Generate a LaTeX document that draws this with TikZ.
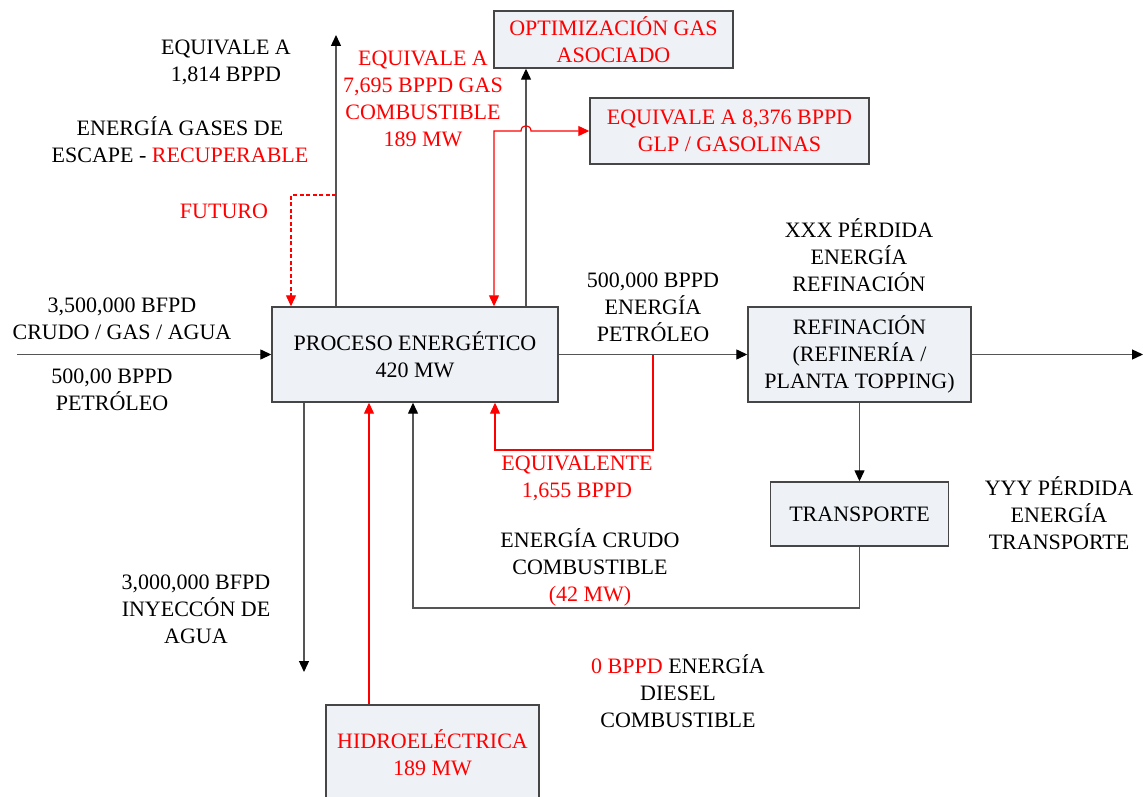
\documentclass[tikz,border=0pt]{standalone}
\usepackage{fontspec}
\setmainfont{Liberation Serif}
\usetikzlibrary{arrows.meta}
\definecolor{boxfill}{RGB}{238,241,246}
\definecolor{boxline}{RGB}{70,70,70}
\definecolor{linegray}{RGB}{85,85,85}
\definecolor{myred}{RGB}{255,0,0}
\begin{document}
\begin{tikzpicture}[x=1pt,y=-1pt,
  txt/.style={font=\fontsize{22}{27}\selectfont, align=center, inner sep=0pt},
  box/.style={txt, draw=boxline, fill=boxfill, line width=1.4pt},
  redtxt/.style={text=myred},
  arr/.style={draw=linegray, line width=1.3pt, -{Triangle[length=11pt,width=10pt,fill=black,color=black]}},
  arrR/.style={draw=myred, line width=1.2pt, -{Triangle[length=11pt,width=10pt,fill=myred,color=myred]}},
  arrRR/.style={draw=myred, line width=1.2pt, {Triangle[length=11pt,width=10pt,fill=myred,color=myred]}-{Triangle[length=11pt,width=10pt,fill=myred,color=myred]}}
]
\useasboundingbox (0,0) rectangle (1143,797);
\fill[white] (0,0) rectangle (1143,797);

% boxes
\node[box, minimum width=286pt, minimum height=95pt] (proc) at (415,354.5) {PROCESO ENERGÉTICO\\420 MW};
\node[box, redtxt, minimum width=239pt, minimum height=57pt] (opt) at (613.5,39.5) {OPTIMIZACIÓN GAS\\ASOCIADO};
\node[box, redtxt, minimum width=279pt, minimum height=66pt] (glp) at (729.5,131) {EQUIVALE A 8,376 BPPD\\GLP / GASOLINAS};
\node[box, minimum width=223pt, minimum height=95pt] (ref) at (859.5,354.5) {REFINACIÓN\\(REFINERÍA /\\PLANTA TOPPING)};
\node[box, minimum width=178pt, minimum height=64pt] (tra) at (859.5,514) {TRANSPORTE};
\node[box, redtxt, minimum width=213pt, minimum height=95pt] (hid) at (432.5,752.5) {HIDROELÉCTRICA\\189 MW};

% coordinates
\coordinate (in) at (17,354.5);
\coordinate (out) at (1143,354.5);
\coordinate (exTop) at (336,35);
\coordinate (fut) at (291,195);
\coordinate (xo) at (526,0);
\coordinate (xg) at (494,131);
\coordinate (hopL) at (521,131);
\coordinate (hopR) at (531,131);
\coordinate (eqR) at (653,450);
\coordinate (eqL) at (495,450);
\coordinate (crB) at (413,608);
\coordinate (inj) at (304,672);
\coordinate (xh) at (369,0);

% connectors
\draw[arr] (in) -- (proc.west);
\draw[arr] (proc.east) -- (ref.west);
\draw[arr] (ref.east) -- (out);
\draw[arr] (ref.south) -- (tra.north);
\draw[arr] (tra.south) |- (crB) -- (proc.south -| crB);
\draw[arr] (proc.north -| exTop) -- (exTop);
\draw[arrR, dash pattern=on 4pt off 2.5pt] (exTop |- fut) -- (fut) -- (proc.north -| fut);
\draw[arr] (proc.north -| xo) -- (opt.south -| xo);
\draw[arrRR] (proc.north -| xg) -- (xg) -- (hopL) .. controls (521,124) and (531,124) .. (hopR) -- (glp.west);
\draw[arrR] (proc.east -| eqR) -- (eqR) -- (eqL) -- (proc.south -| eqL);
\draw[arr] (proc.south -| inj) -- (inj);
\draw[arrR] (hid.north -| xh) -- (proc.south -| xh);

% labels
\node[txt] (l1) at (226,62) {EQUIVALE A\\1,814 BPPD};
\node[txt] (l2) at (180,139.5) {ENERGÍA GASES DE\\ESCAPE - \textcolor{myred}{RECUPERABLE}};
\node[txt, redtxt] (l3) at (224,211) {FUTURO};
\node[txt, redtxt] (l4) at (423,98.5) {EQUIVALE A\\7,695 BPPD GAS\\COMBUSTIBLE\\189 MW};
\node[txt] (l5) at (653,307) {500,000 BPPD\\ENERGÍA\\PETRÓLEO};
\node[txt] (l6) at (859,255.5) {XXX PÉRDIDA\\ENERGÍA\\REFINACIÓN};
\node[txt] (l7) at (1059,513.5) {YYY PÉRDIDA\\ENERGÍA\\TRANSPORTE};
\node[txt] (l8) at (122,318.5) {3,500,000 BFPD\\CRUDO / GAS / AGUA};
\node[txt] (l9) at (112,389.5) {500,00 BPPD\\PETRÓLEO};
\node[txt, redtxt] (l10) at (577,478) {EQUIVALENTE\\1,655 BPPD};
\node[txt] (l11) at (590,567.5) {ENERGÍA CRUDO\\COMBUSTIBLE\\\textcolor{myred}{(42 MW)}};
\node[txt] (l12) at (196,609) {3,000,000 BFPD\\INYECCÓN DE\\AGUA};
\node[txt] (l13) at (678,691.5) {\textcolor{myred}{0 BPPD} ENERGÍA\\DIESEL\\COMBUSTIBLE};
\end{tikzpicture}
\end{document}
